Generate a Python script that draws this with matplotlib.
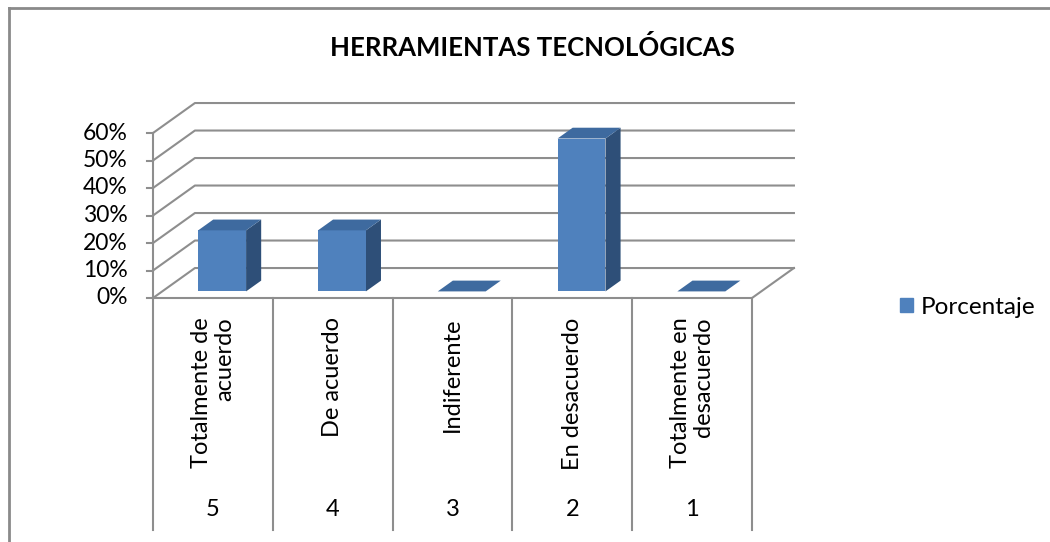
import matplotlib
matplotlib.use("Agg")
import matplotlib.pyplot as plt
from matplotlib.patches import Polygon, Patch
from matplotlib.lines import Line2D

plt.rcParams['font.family'] = ['Lato', 'DejaVu Sans']

# data
categorias = ["Totalmente de\nacuerdo", "De acuerdo", "Indiferente", "En desacuerdo", "Totalmente en\ndesacuerdo"]
escala = ["5", "4", "3", "2", "1"]
porcentaje = [0.222, 0.222, 0.0, 0.556, 0.0]
ticks = [0.0, 0.1, 0.2, 0.3, 0.4, 0.5, 0.6]
titulo = "HERRAMIENTAS TECNOLÓGICAS"
serie = "Porcentaje"

W, H = 1050, 542
fig = plt.figure(figsize=(W / 100, H / 100), dpi=100)

# plot area = front face of the 3D box
ax = fig.add_axes([153 / W, 1 - 298 / H, 599 / W, 165 / H])
ax.set_xlim(0, len(categorias))
ax.set_ylim(0, 0.6)
ax.axis('off')

DX, DY = 0.35, 0.109      # depth offset (category units, value units)
F0, F1 = 0.22, 0.58       # bar front/back depth fractions
HW = 0.2                  # bar half width
grid_c = '#8E8E8E'
n = len(categorias)

def line(xs, ys, **kw):
    ax.add_line(Line2D(xs, ys, color=grid_c, lw=1.5, clip_on=False, zorder=1, **kw))

# walls and gridlines
for t in ticks:
    line([0, DX, n + DX], [t, t + DY, t + DY])
    line([-0.05, 0], [t, t])
    ax.text(-0.21, t, f"{int(round(t * 100))}%", ha='right', va='center', fontsize=16.5)
line([0, 0], [0, 0.6])
line([0, n, n + DX], [0, 0, DY])

# category table below
for i in range(n + 1):
    line([i, i], [0, -0.844])
for i, (c, e) in enumerate(zip(categorias, escala)):
    ax.text(i + 0.5, -0.07, c, rotation=90, rotation_mode='anchor', ha='right', va='center',
            multialignment='right', fontsize=17, linespacing=1.1)
    ax.text(i + 0.5, -0.77, e, ha='center', va='center', fontsize=17)

# bars
front_c, top_c, side_c = '#4F81BD', '#3E6A9F', '#2E4F78'
for i, v in enumerate(porcentaje):
    xl = i + 0.5 - HW
    xr = i + 0.5 + HW
    if v > 0:
        ax.add_patch(Polygon([(xr + F0 * DX, F0 * DY), (xr + F1 * DX, F1 * DY),
                              (xr + F1 * DX, v + F1 * DY), (xr + F0 * DX, v + F0 * DY)],
                             closed=True, fc=side_c, ec='none', zorder=3, clip_on=False))
        ax.add_patch(Polygon([(xl + F0 * DX, F0 * DY), (xr + F0 * DX, F0 * DY),
                              (xr + F0 * DX, v + F0 * DY), (xl + F0 * DX, v + F0 * DY)],
                             closed=True, fc=front_c, ec='none', zorder=4, clip_on=False))
    ax.add_patch(Polygon([(xl + F0 * DX, v + F0 * DY), (xr + F0 * DX, v + F0 * DY),
                          (xr + F1 * DX, v + F1 * DY), (xl + F1 * DX, v + F1 * DY)],
                         closed=True, fc=top_c, ec='none', zorder=4, clip_on=False))

fig.text(532 / W, 1 - 47 / H, titulo, ha='center', va='center', fontsize=18.5, fontweight='bold')

fig.legend(handles=[Patch(color=front_c)], labels=[serie], loc='center left',
           bbox_to_anchor=(878 / W, 1 - 307 / H), frameon=False, fontsize=17.5,
           handlelength=0.55, handleheight=0.55, handletextpad=0.3)

# outer chart frame
fig.add_artist(Line2D([8.5 / W, 1], [1 - 7.5 / H, 1 - 7.5 / H], transform=fig.transFigure, color='#8A8A8A', lw=2))
fig.add_artist(Line2D([8.5 / W, 8.5 / W], [0, 1 - 7.5 / H], transform=fig.transFigure, color='#8A8A8A', lw=2))

fig.savefig("out.png", dpi=100)
